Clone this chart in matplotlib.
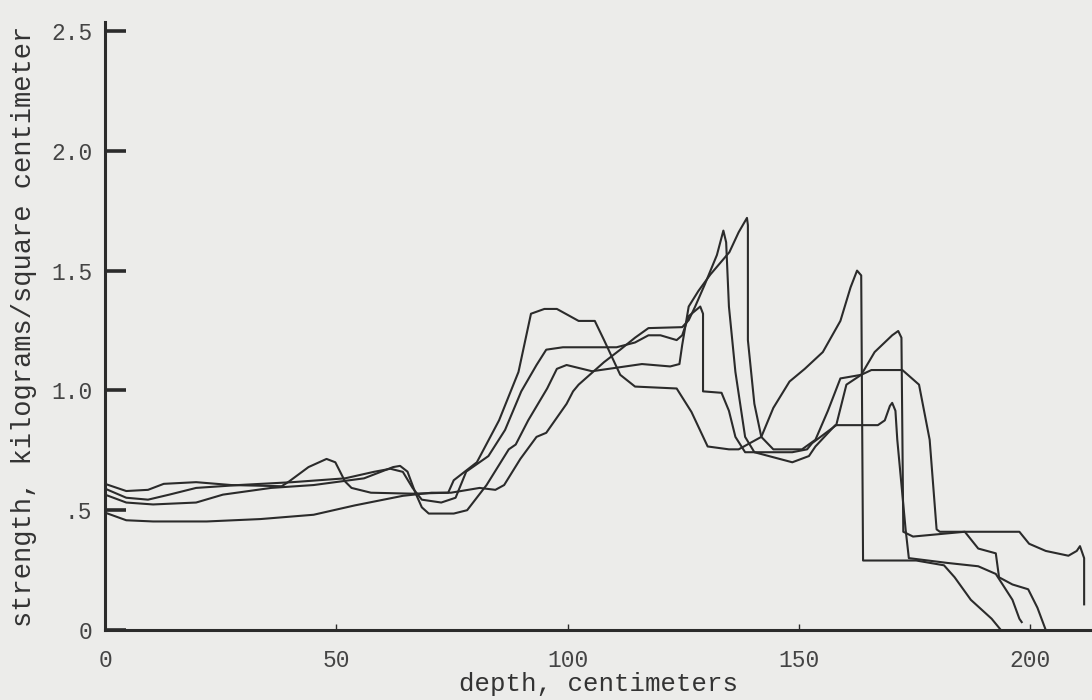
"""plot.py: strength vs depth profiles (four penetrometer runs)."""

import matplotlib as mpl
import matplotlib.pyplot as plt

mpl.rcParams['font.family'] = ['Liberation Mono', 'DejaVu Sans Mono']

# depth (cm) and strength (kg/cm^2)
depth_a = [0, 4.6, 9.3, 12.7, 19.7, 27.3, 38.2, 39.8, 44, 47.9, 49.8, 51.9,
           53.3, 57.5, 66.5, 74.2, 75.4, 80.4, 85.2, 89.4, 92.1, 95, 97.7,
           102.4, 105.9, 107.9, 111.4, 114.6, 123.6, 126.8, 130.3, 134.9,
           137, 141.9, 144.5, 148, 151.3, 155.2, 159, 161.2, 162.6, 163.5,
           163.9, 175.4, 181.4, 183.7, 187.2, 191.7, 193.7]
strength_a = [0.61, 0.58, 0.585, 0.61, 0.617, 0.605, 0.60, 0.62, 0.68, 0.714,
              0.70, 0.62, 0.593, 0.573, 0.569, 0.573, 0.625, 0.70, 0.875,
              1.077, 1.32, 1.34, 1.34, 1.29, 1.29, 1.21, 1.065, 1.016, 1.008,
              0.91, 0.766, 0.754, 0.754, 0.806, 0.927, 1.037, 1.09, 1.16,
              1.29, 1.43, 1.50, 1.48, 0.29, 0.29, 0.27, 0.22, 0.126, 0.047, 0]

depth_b = [0, 4.6, 9.3, 13.9, 19.7, 28.9, 40.5, 51.9, 58.1, 61.7, 64.4, 66.5,
           68.5, 72.7, 75.8, 78.1, 82.9, 86.5, 90, 93.3, 95.4, 99, 110.6,
           114.6, 117.5, 120.1, 123.6, 124.8, 126.2, 128.7, 129.3, 129.3,
           133.3, 134.9, 136.3, 138.4, 148.6, 151.8, 152.9, 158.1, 160.3,
           163.5, 166.4, 170.2, 171.5, 172.2, 172.6, 174.7, 185.9, 188.8,
           192.6, 193.3, 196.2, 199.6, 201.6, 203.4]
strength_b = [0.59, 0.552, 0.544, 0.565, 0.593, 0.605, 0.617, 0.633, 0.66,
              0.673, 0.66, 0.593, 0.544, 0.532, 0.552, 0.661, 0.726, 0.835,
              0.996, 1.106, 1.17, 1.18, 1.18, 1.20, 1.23, 1.23, 1.21, 1.23,
              1.31, 1.35, 1.32, 0.996, 0.99, 0.915, 0.806, 0.742, 0.742,
              0.754, 0.78, 0.855, 1.024, 1.065, 1.16, 1.23, 1.248, 1.22, 0.41,
              0.39, 0.41, 0.34, 0.32, 0.22, 0.19, 0.17, 0.093, 0]

depth_c = [0, 4.6, 10.4, 19.7, 25.5, 35.9, 45.1, 56, 62.3, 63.8, 65.4, 67.1,
           68.5, 70, 75.4, 78.3, 82.5, 87.3, 88.8, 91.5, 95.6, 97.7, 99.8,
           105.3, 116.1, 122.2, 124.2, 124.8, 126.2, 128.3, 130.9, 135, 137,
           138.8, 139, 139, 140.4, 141.9, 144.5, 150.7, 153.6, 156.3, 159,
           163.5, 165.7, 172.4, 176, 178.3, 179.8, 180.5, 197.7, 199.8,
           203.4, 208.3, 210.1, 210.8, 211.7, 211.7]
strength_c = [0.565, 0.532, 0.524, 0.532, 0.565, 0.593, 0.605, 0.633, 0.68,
              0.685, 0.661, 0.573, 0.512, 0.486, 0.486, 0.50, 0.605, 0.754,
              0.774, 0.875, 1.008, 1.09, 1.106, 1.08, 1.11, 1.10, 1.11, 1.19,
              1.35, 1.415, 1.484, 1.577, 1.66, 1.72, 1.69, 1.21, 0.944, 0.806,
              0.754, 0.754, 0.794, 0.915, 1.05, 1.065, 1.085, 1.085, 1.024,
              0.794, 0.42, 0.41, 0.41, 0.36, 0.33, 0.31, 0.33, 0.35, 0.30,
              0.107]

depth_d = [0, 4.6, 10.4, 22, 33.6, 45.1, 54, 64.4, 70.6, 74.8, 81, 84.4, 86.3,
           89.8, 93.3, 95.4, 99.8, 101.2, 102.4, 107.9, 111.4, 114.6, 117.5,
           124.8, 126.2, 127.6, 129.7, 132.3, 133.7, 134.3, 134.9, 136.3,
           138.4, 140.4, 148.6, 152.2, 153.6, 157.9, 167.1, 168.6, 169.7,
           170.2, 170.9, 171.3, 173.1, 173.8, 182.1, 188.8, 192.6, 196.2,
           197.7, 198.2]
strength_d = [0.49, 0.458, 0.453, 0.453, 0.463, 0.481, 0.52, 0.56, 0.573,
              0.573, 0.593, 0.585, 0.605, 0.714, 0.806, 0.823, 0.944, 0.996,
              1.024, 1.118, 1.17, 1.22, 1.26, 1.264, 1.293, 1.35, 1.443,
              1.565, 1.667, 1.618, 1.35, 1.077, 0.806, 0.742, 0.70, 0.726,
              0.766, 0.855, 0.855, 0.875, 0.935, 0.948, 0.915, 0.794, 0.42,
              0.30, 0.28, 0.266, 0.234, 0.126, 0.047, 0.033]

xticks = [0, 50, 100, 150, 200]
yticks = [0, 0.5, 1.0, 1.5, 2.0, 2.5]
ytick_labels = ['0', '.5', '1.0', '1.5', '2.0', '2.5']

paper = '#ececea'
ink = '#2b2b2b'

fig = plt.figure(figsize=(10.92, 7.0), dpi=100, facecolor=paper)
ax = fig.add_axes([105 / 1092., 70 / 700., 987 / 1092., 608 / 700.])
ax.set_facecolor(paper)

for xs, ys in [(depth_a, strength_a), (depth_b, strength_b),
               (depth_c, strength_c), (depth_d, strength_d)]:
    ax.plot(xs, ys, color=ink, lw=1.5, solid_joinstyle='round')

ax.set_xlim(0, 213.4)
ax.set_ylim(0, 2.5376)

for s in ['top', 'right']:
    ax.spines[s].set_visible(False)
for s in ['left', 'bottom']:
    ax.spines[s].set_linewidth(2.2)
    ax.spines[s].set_color(ink)

ax.set_xticks(xticks)
ax.set_yticks(yticks)
ax.set_yticklabels(ytick_labels)
ax.tick_params(axis='y', direction='in', length=15, width=2.6, color=ink,
               pad=9, labelsize=16.5, labelcolor='#444444')
ax.tick_params(axis='x', direction='in', length=4, width=1, color=ink,
               pad=14, labelsize=16.5, labelcolor='#444444')
ax.set_xlabel('depth, centimeters', fontsize=18.5, color='#333333', labelpad=0)
ax.set_ylabel('strength, kilograms/square centimeter', fontsize=19.5,
              color='#333333', labelpad=10)

plt.savefig('out.png', dpi=100, facecolor=paper)
